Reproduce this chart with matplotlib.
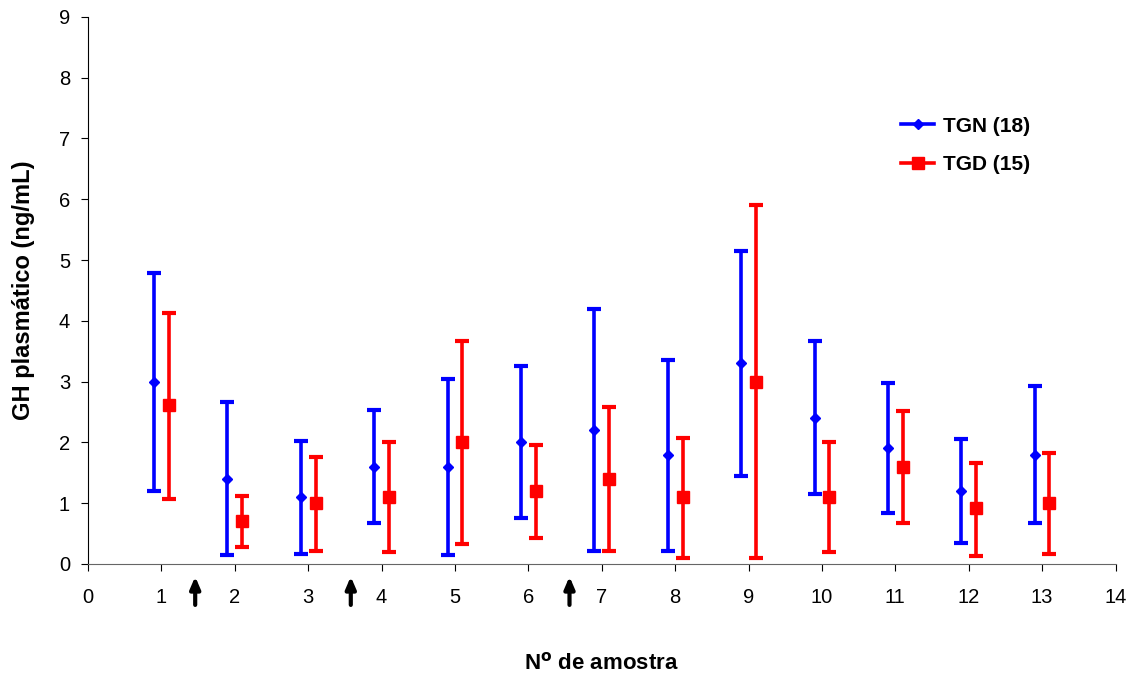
import numpy as np
import matplotlib.pyplot as plt
import matplotlib.transforms as mtransforms
from matplotlib.lines import Line2D

plt.rcParams['font.family'] = ['Liberation Sans', 'DejaVu Sans']

amostras = np.arange(1, 14)

# TGN (18)
tgn_mean = [3.0, 1.4, 1.1, 1.6, 1.6, 2.0, 2.2, 1.8, 3.3, 2.4, 1.9, 1.2, 1.8]
tgn_high = [4.78, 2.66, 2.02, 2.53, 3.05, 3.25, 4.2, 3.36, 5.15, 3.66, 2.97, 2.06, 2.92]
tgn_low = [1.2, 0.15, 0.17, 0.68, 0.15, 0.75, 0.22, 0.22, 1.45, 1.15, 0.83, 0.35, 0.68]

# TGD (15)
tgd_mean = [2.62, 0.7, 1.0, 1.1, 2.0, 1.2, 1.4, 1.1, 3.0, 1.1, 1.6, 0.92, 1.0]
tgd_high = [4.13, 1.12, 1.76, 2.0, 3.66, 1.96, 2.58, 2.08, 5.9, 2.0, 2.51, 1.66, 1.83]
tgd_low = [1.07, 0.28, 0.21, 0.2, 0.33, 0.43, 0.22, 0.09, 0.09, 0.2, 0.68, 0.13, 0.17]

setas = [1.46, 3.58, 6.56]

fig = plt.figure(figsize=(11.36, 6.77), dpi=100)
ax = fig.add_axes([0.0775, 0.167, 0.9045, 0.808])

def barras(x, m, hi, lo, cor, mk, ms, label):
    m = np.array(m)
    err = [m - np.array(lo), np.array(hi) - m]
    ax.errorbar(x, m, yerr=err, fmt=mk, color=cor, ms=ms, ecolor=cor,
                elinewidth=2.6, capsize=5, capthick=3, label=label,
                linestyle='none')

barras(amostras - 0.1, tgn_mean, tgn_high, tgn_low, '#0000ff', 'D', 5, 'TGN (18)')
barras(amostras + 0.1, tgd_mean, tgd_high, tgd_low, '#ff0000', 's', 9, 'TGD (15)')

ax.set_xlim(0, 14)
ax.set_ylim(0, 9)
ax.set_xticks(range(0, 15))
ax.set_yticks(range(0, 10))
ax.spines['top'].set_visible(False)
ax.spines['right'].set_visible(False)
ax.spines['bottom'].set_color('#666666')
ax.tick_params(direction='out', length=5, labelsize=14.5)
ax.tick_params(axis='x', pad=12)
ax.tick_params(axis='y', pad=8)
ax.set_xlabel(r'N$^{\mathbf{o}}$ de amostra', fontsize=16, fontweight='bold', labelpad=33)
ax.set_ylabel('GH plasmático (ng/mL)', fontsize=17, fontweight='bold', labelpad=17)

trans = mtransforms.blended_transform_factory(ax.transData, ax.transAxes)
for s in setas:
    ax.annotate('', xy=(s, -0.018), xytext=(s, -0.08), xycoords=trans, textcoords=trans,
                arrowprops=dict(arrowstyle='-|>,head_width=0.3,head_length=0.7',
                                color='black', lw=3), annotation_clip=False)

h = [Line2D([], [], color='#0000ff', marker='D', ms=5, lw=2.6),
     Line2D([], [], color='#ff0000', marker='s', ms=9, lw=2.6)]
ax.legend(h, ['TGN (18)', 'TGD (15)'], loc='upper left', bbox_to_anchor=(0.773, 0.852),
          frameon=False, prop={'weight': 'bold', 'size': 15}, handlelength=1.6,
          labelspacing=0.95, handletextpad=0.4)

fig.savefig('out.png', dpi=100)
